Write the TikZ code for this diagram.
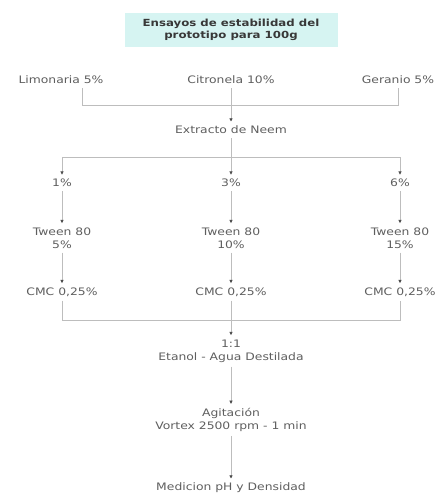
\documentclass[tikz,border=0pt]{standalone}
\usepackage{fontspec}
\setmainfont[FakeStretch=1.2]{DejaVu Sans}
\usepackage{tikz}
\usetikzlibrary{arrows.meta}
\definecolor{titlefill}{HTML}{D6F4F2}
\definecolor{txtgray}{HTML}{5E5E5E}
\definecolor{linegray}{HTML}{BDBDBD}
\tikzset{
  etiqueta/.style={text=txtgray, font=\fontsize{10.3}{13}\selectfont, align=center, inner sep=4pt},
  linea/.style={draw=linegray, line width=0.8pt},
  flecha/.style={linea, -{Latex[length=3.5pt,width=3.5pt,color=txtgray!80!black]}}
}
\begin{document}
\begin{tikzpicture}[x=1pt,y=-1pt]
        \useasboundingbox (0,0) rectangle (435,496);

        % Titulo
        \node[fill=titlefill, minimum width=213pt, minimum height=34pt, align=center,
              text=txtgray!60!black, font=\bfseries\fontsize{9.8}{12.5}\selectfont] (titulo) at (231,30)
              {Ensayos de estabilidad del\\prototipo para 100g};

        % Aceites
        \node[etiqueta] (limonaria) at (61,80) {Limonaria 5\%};
        \node[etiqueta] (citronela) at (231,80) {Citronela 10\%};
        \node[etiqueta] (geranio) at (398,80) {Geranio 5\%};
        \node[etiqueta] (neem) at (231,130) {Extracto de Neem};

        % Concentraciones
        \node[etiqueta] (c1) at (62,183) {1\%};
        \node[etiqueta] (c3) at (231,183) {3\%};
        \node[etiqueta] (c6) at (400,183) {6\%};

        \node[etiqueta] (tween1) at (62,238) {Tween 80\\5\%};
        \node[etiqueta] (tween3) at (231,238) {Tween 80\\10\%};
        \node[etiqueta] (tween6) at (400,238) {Tween 80\\15\%};

        \node[etiqueta] (cmc1) at (62,292) {CMC 0,25\%};
        \node[etiqueta] (cmc3) at (231,292) {CMC 0,25\%};
        \node[etiqueta] (cmc6) at (400,292) {CMC 0,25\%};

        % Proceso
        \node[etiqueta] (mezcla) at (231,351) {1:1\\Etanol - Agua Destilada};
        \node[etiqueta] (agitacion) at (231,420) {Agitación\\Vortex 2500 rpm - 1 min};
        \node[etiqueta] (medicion) at (231,488) {Medicion pH y Densidad};

        % Puntos de union
        \coordinate (uIzq) at (82,105);
        \coordinate (uDer) at (398,105);
        \coordinate (uNeem) at (231,157);
        \coordinate (uCmc) at (231,320);

        % Conectores
        \draw[linea] (limonaria.south -| uIzq) -- (uIzq) -- (uDer) -- (geranio.south);
        \draw[flecha] (citronela) -- (neem);
        \draw[linea] (neem) -- (uNeem);
        \draw[linea] (c1 |- uNeem) -- (c6 |- uNeem);
        \draw[flecha] (c1 |- uNeem) -- (c1);
        \draw[flecha] (uNeem) -- (c3);
        \draw[flecha] (c6 |- uNeem) -- (c6);
        \draw[flecha] (c1) -- (tween1);
        \draw[flecha] (c3) -- (tween3);
        \draw[flecha] (c6) -- (tween6);
        \draw[flecha] (tween1) -- (cmc1);
        \draw[flecha] (tween3) -- (cmc3);
        \draw[flecha] (tween6) -- (cmc6);
        \draw[linea] (cmc1) -- (cmc1 |- uCmc) -- (cmc6 |- uCmc) -- (cmc6);
        \draw[flecha] (cmc3) -- (mezcla);
        \draw[flecha] (mezcla) -- (agitacion);
        \draw[flecha] (agitacion) -- (medicion);
    \end{tikzpicture}
\end{document}
